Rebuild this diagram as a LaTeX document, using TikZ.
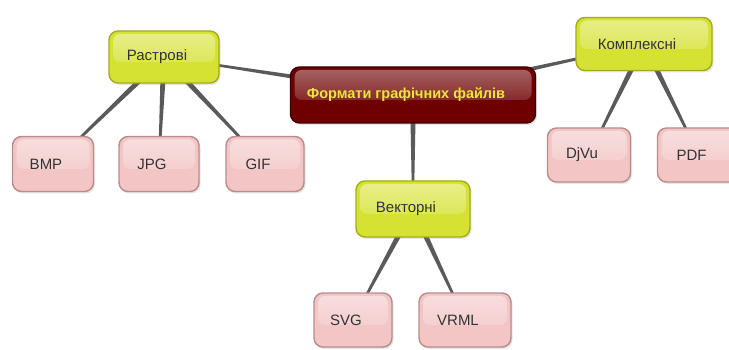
\documentclass[tikz,border=0pt]{standalone}
\usepackage{fontspec}
\setmainfont{Liberation Sans}
\usetikzlibrary{calc,shadows,backgrounds,fadings}
\definecolor{ylw}{HTML}{D6E232}
\definecolor{ylwb}{HTML}{A3AD1C}
\definecolor{pnk}{HTML}{F3C5C5}
\definecolor{pnkb}{HTML}{B98C8C}
\definecolor{dred}{HTML}{6E0000}
\definecolor{dredb}{HTML}{3E0000}
\definecolor{ytext}{HTML}{ECE43C}
\definecolor{lnk}{HTML}{5A5A5A}
\definecolor{txt}{HTML}{333333}
\newcommand\lft[1]{\kern-7pt #1\kern7pt}
\newcommand\taper[2]{\fill[lnk] ($(#1)!3pt!90:(#2)$) -- ($(#2)!0.8pt!-90:(#1)$) -- ($(#2)!0.8pt!90:(#1)$) -- ($(#1)!3pt!-90:(#2)$) -- cycle;}
\tikzset{
  base/.style={rounded corners=9pt, draw, line width=1.4pt, inner sep=0pt,
    drop shadow={shadow xshift=1.5pt, shadow yshift=-2pt, opacity=0.2},
    font=\fontsize{15}{17}\selectfont, text=txt},
  hl/.style={path picture={\fill[white,fill opacity=#1,path fading=south,rounded corners=7pt]
    ($(path picture bounding box.north west)+(4pt,-3pt)$) rectangle
    ($(path picture bounding box.east)+(-4pt,-5pt)$);}},
  mainbox/.style={base, fill=dred, draw=dredb, text=ytext,
    font=\fontsize{14.5}{17}\selectfont\bfseries, hl=0.4},
  catbox/.style={base, fill=ylw, draw=ylwb, hl=0.45},
  leafbox/.style={base, fill=pnk, draw=pnkb, hl=0.45},
}
\begin{document}
\begin{tikzpicture}[x=1pt,y=-1pt]
\useasboundingbox (0,0) rectangle (729,350);
\node[mainbox, minimum width=245pt, minimum height=56pt] (main) at (413,95) {\lft{Формати графічних файлів}};
\node[catbox, minimum width=110pt, minimum height=52pt] (rast) at (164,57) {\lft{Растрові}};
\node[catbox, minimum width=136pt, minimum height=53pt] (kompl) at (644,44) {\lft{Комплексні}};
\node[catbox, minimum width=114pt, minimum height=56pt] (vekt) at (413,209) {\lft{Векторні}};
\node[leafbox, minimum width=81pt, minimum height=55pt] (bmp) at (53,164) {\lft{BMP}};
\node[leafbox, minimum width=80pt, minimum height=55pt] (jpg) at (159,164) {\lft{JPG}};
\node[leafbox, minimum width=78pt, minimum height=55pt] (gif) at (265,164) {\lft{GIF}};
\node[leafbox, minimum width=83pt, minimum height=54pt] (djvu) at (589,155) {\lft{DjVu}};
\node[leafbox, minimum width=83pt, minimum height=54pt] (pdf) at (699,155) {\lft{\kern-1pt PDF}};
\node[leafbox, minimum width=78pt, minimum height=54pt] (svg) at (353,320) {\lft{SVG}};
\node[leafbox, minimum width=92pt, minimum height=54pt] (vrml) at (465,320) {\lft{VRML}};
\begin{pgfonlayer}{background}
\fill[white] (0,0) rectangle (729,350);
\taper{main}{rast}
\taper{main}{kompl}
\taper{main}{vekt}
\taper{rast}{bmp}
\taper{rast}{jpg}
\taper{rast}{gif}
\taper{kompl}{djvu}
\taper{kompl}{pdf}
\taper{vekt}{svg}
\taper{vekt}{vrml}
\end{pgfonlayer}
\end{tikzpicture}
\end{document}
